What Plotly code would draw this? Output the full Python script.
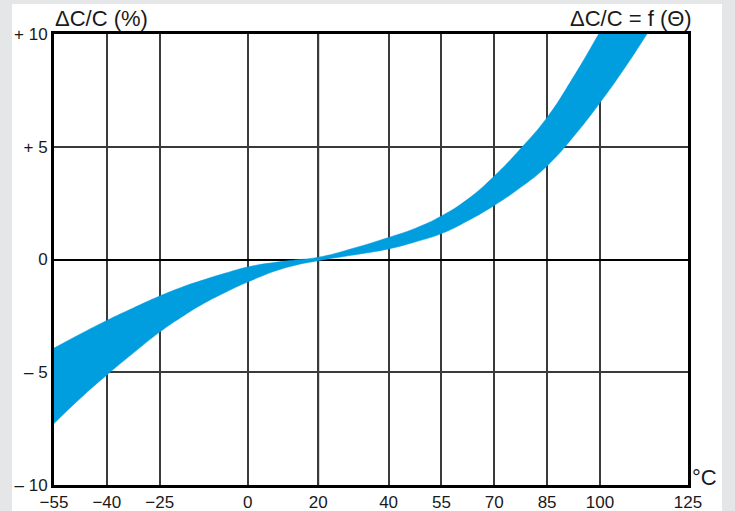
import plotly.graph_objects as go

# Data
upper_t = [-55, -47.5, -40, -32.5, -25, -18.75, -12.5, -6.25, 0, 10, 20, 30, 40, 47.5, 55, 62.5, 70, 77.5, 85, 92.5, 100, 105]
upper_v = [-3.93, -3.3, -2.7, -2.15, -1.62, -1.23, -0.9, -0.6, -0.33, -0.08, 0.1, 0.5, 0.98, 1.38, 1.93, 2.68, 3.7, 4.92, 6.3, 8.1, 10.1, 11.5]
lower_t = [-55, -47.5, -40, -32.5, -25, -18.75, -12.5, -6.25, 0, 10, 20, 30, 40, 47.5, 55, 62.5, 70, 77.5, 85, 92.5, 100, 107.5, 115, 120]
lower_v = [-7.27, -6.15, -5.12, -4.15, -3.22, -2.55, -1.95, -1.45, -1.0, -0.4, -0.05, 0.2, 0.47, 0.78, 1.15, 1.72, 2.4, 3.2, 4.15, 5.45, 6.95, 8.6, 10.4, 11.6]

x_ticks = [-55, -40, -25, 0, 20, 40, 55, 70, 85, 100, 125]
x_ticktext = ["−55", "−40", "−25", "0", "20", "40", "55", "70", "85", "100", "125"]
y_ticks = [-10, -5, 0, 5, 10]
y_ticktext = ["– 10", "– 5", "0", "+ 5", "+ 10"]

FONT = "Liberation Sans"
BLUE = "#009ddf"

fig = go.Figure()
fig.add_trace(go.Scatter(
    x=upper_t + lower_t[::-1],
    y=upper_v + lower_v[::-1],
    fill="toself", fillcolor=BLUE,
    mode="lines", line=dict(color=BLUE, width=0.5, shape="spline", smoothing=1.3),
    hoverinfo="skip", showlegend=False,
))

L, R, T, B = 54, 47, 34, 26
W, H = 735, 511
pw, ph = W - L - R, H - T - B

def px_to_paper_x(px):
    return (px - L) / pw

def px_to_paper_y(py):
    return (H - B - py) / ph

shapes = [
    # white panel behind the chart
    dict(type="rect", xref="paper", yref="paper", layer="below",
         x0=px_to_paper_x(12), x1=px_to_paper_x(722),
         y0=px_to_paper_y(515), y1=px_to_paper_y(4),
         fillcolor="white", line=dict(width=0)),
    # thick reference line at 20 °C
    dict(type="line", xref="x", yref="paper", layer="below",
         x0=20, x1=20, y0=0, y1=1, line=dict(color="black", width=2)),
]

fig.update_layout(
    width=W, height=H,
    margin=dict(l=L, r=R, t=T, b=B, autoexpand=False),
    paper_bgcolor="#e5e6e8",
    plot_bgcolor="#f0f0f0",
    font=dict(family=FONT, size=17, color="#1a1a1a"),
    shapes=shapes,
    xaxis=dict(range=[-55, 125], tickvals=x_ticks, ticktext=x_ticktext,
               showgrid=True, gridcolor="#3a3a3a", gridwidth=1.5,
               zeroline=False, showline=True, mirror=True,
               linecolor="black", linewidth=3, ticks="", automargin=False,
               tickfont=dict(size=17), fixedrange=True),
    yaxis=dict(range=[-10, 10], tickvals=y_ticks, ticktext=y_ticktext,
               showgrid=True, gridcolor="#3a3a3a", gridwidth=1.5,
               zeroline=True, zerolinecolor="black", zerolinewidth=2,
               showline=True, mirror=True, automargin=False,
               linecolor="black", linewidth=3, ticks="",
               tickfont=dict(size=17), fixedrange=True),
    annotations=[
        dict(text="ΔC/C (%)", xref="paper", yref="paper",
             x=px_to_paper_x(53), y=px_to_paper_y(33), xanchor="left", yanchor="bottom",
             showarrow=False, font=dict(size=22, family=FONT, color="#1a1a1a")),
        dict(text="ΔC/C = f (Θ)", xref="paper", yref="paper",
             x=px_to_paper_x(694), y=px_to_paper_y(33), xanchor="right", yanchor="bottom",
             showarrow=False, font=dict(size=22, family=FONT, color="#1a1a1a")),
        dict(text="°C", xref="paper", yref="paper",
             x=px_to_paper_x(690), y=px_to_paper_y(492), xanchor="left", yanchor="bottom",
             showarrow=False, font=dict(size=22, family=FONT, color="#1a1a1a")),
    ],
)

fig.write_html("out.html", config={"displayModeBar": False},
               post_script="document.body.style.margin='0';document.body.style.overflow='hidden';")
